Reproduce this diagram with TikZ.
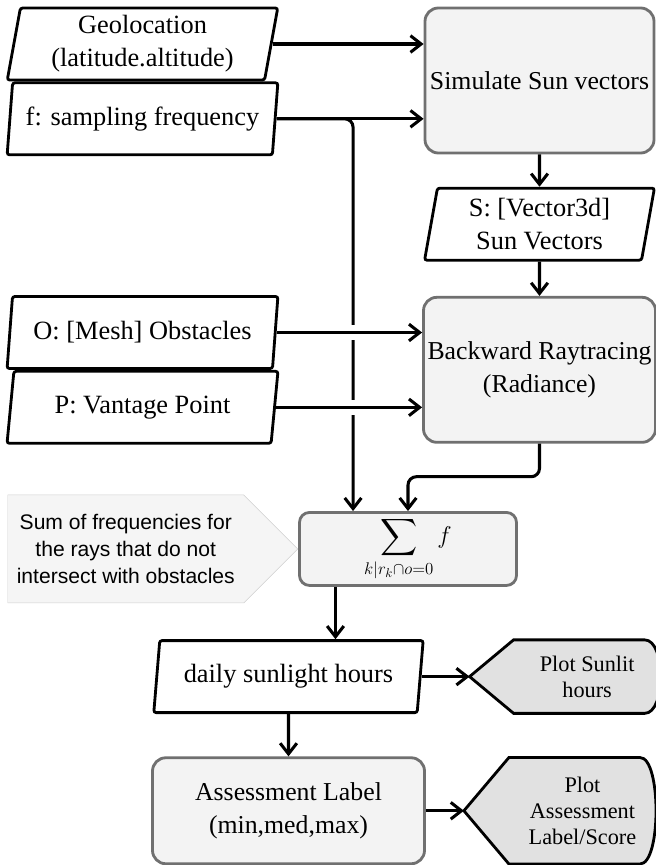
\documentclass[tikz,border=0pt]{standalone}
\usepackage{amsmath,amssymb}
\usepackage{fontspec}
\setmainfont{Liberation Serif}
\newfontfamily\notefont{Liberation Sans}
\usepackage{tikz}
\usetikzlibrary{shapes.geometric, shapes.symbols, arrows.meta, positioning, calc, backgrounds}
\definecolor{procfill}{HTML}{F3F3F3}
\definecolor{procline}{HTML}{707070}
\definecolor{dispfill}{HTML}{E1E1E1}
\definecolor{notefill}{HTML}{F5F5F5}
\definecolor{noteline}{HTML}{CFCFCF}
\tikzset{
    dataio/.style={
        trapezium,
        trapezium left angle=81,
        trapezium right angle=99,
        trapezium stretches=true,
        draw=black,
        line width=2.4pt,
        rounded corners=2pt,
        minimum width=8.13cm,
        minimum height=2.16cm,
        fill=white,
        align=center,
        font=\fontsize{22.5}{28}\selectfont
    },
    process/.style={
        rectangle,
        draw=procline,
        line width=2.4pt,
        rounded corners=0.4cm,
        minimum width=6.9cm,
        minimum height=4.35cm,
        inner xsep=1pt,
        fill=procfill,
        align=center,
        font=\fontsize{22}{28}\selectfont
    },
    display/.style={
        draw=black,
        line width=2.4pt,
        fill=dispfill
    },
    displaytext/.style={
        rectangle,
        minimum width=4.4cm,
        minimum height=2.19cm,
        inner sep=0pt,
        align=center,
        font=\fontsize{19}{22}\selectfont
    },
    note/.style={
        signal,
        signal to=east,
        signal pointer angle=90,
        draw=noteline,
        thin,
        fill=notefill,
        minimum width=8.7cm,
        minimum height=3.24cm,
        align=center,
        font=\notefont\fontsize{18}{23}\selectfont
    },
    wire/.style={
        draw=black,
        line width=2.6pt,
        -{Straight Barb[length=0.32cm,width=0.5cm]}
    },
    gapwire/.style={
        wire,
        preaction={draw=white, line width=0.45cm, -, shorten <=1cm, shorten >=1cm}
    }
}

\begin{document}
\begin{tikzpicture}
\useasboundingbox (0,0) rectangle (19.65,-25.95);

% Sun vectors and raytracing
\node[process, minimum width=6.87cm] (sim) at (16.185,-2.415) {Simulate Sun vectors};
\node[dataio, below=0.97cm of sim, minimum width=6.9cm] (sunvec) {S: [Vector3d]\\Sun Vectors};
\node[process, below=1.03cm of sunvec, minimum width=6.96cm] (raytrace) {Backward Raytracing\\(Radiance)};

% Inputs
\node[dataio] (geo) at (4.275,-1.32) {Geolocation\\(latitude.altitude)};
\node[dataio, below=0cm of geo] (freq) {f: sampling frequency};
\node[dataio] (obst) at (4.275,-9.975) {O: [Mesh] Obstacles};
\node[dataio, below=0cm of obst] (vantage) {P: Vantage Point};

% Sum of frequencies
\node[process, below=2.02cm of raytrace, xshift=-3.945cm, minimum width=6.51cm, minimum height=2.19cm, rounded corners=0.3cm, font=\fontsize{22}{26}\selectfont] (sum) {$\displaystyle\sum_{k|r_k\cap o=0} f$};
\node[note, left=0cm of sum] (note) {Sum of frequencies for\\the rays that do not\\intersect with obstacles};

% Results
\node[dataio, below=1.57cm of sum, xshift=-3.585cm, minimum width=8.1cm] (daily) {daily sunlight hours};
\node[process, below=1.27cm of daily, minimum width=8.16cm, minimum height=3.18cm] (assess) {Assessment Label\\(min,med,max)};

% Plots
\node[displaytext, right=2.76cm of daily] (plotsun) {Plot Sunlit\\hours};
\node[displaytext, right=2.49cm of assess, minimum height=3.18cm] (plotlabel) {Plot\\Assessment\\Label/Score};
\coordinate (suntip) at ([xshift=-1.32cm]plotsun.west);
\coordinate (labeltip) at ([xshift=-1.35cm]plotlabel.west);
\begin{scope}[on background layer]
\draw[display] (suntip) -- (plotsun.north west) -- ([xshift=-0.48cm]plotsun.north east) .. controls ([xshift=0.16cm]plotsun.north east) and ([xshift=0.16cm]plotsun.south east) .. ([xshift=-0.48cm]plotsun.south east) -- (plotsun.south west) -- cycle;
\draw[display] (labeltip) -- (plotlabel.north west) -- ([xshift=-0.48cm]plotlabel.north east) .. controls ([xshift=0.16cm]plotlabel.north east) and ([xshift=0.16cm]plotlabel.south east) .. ([xshift=-0.48cm]plotlabel.south east) -- (plotlabel.south west) -- cycle;
\end{scope}

% Input connections
\draw[wire] (geo.east) -- (geo.east -| sim.west);
\draw[wire] (freq.east) -- (freq.east -| sim.west);
\coordinate (sumin) at ($(sum.north west)!0.25!(sum.north east)$);
\draw[wire, rounded corners=0.25cm] (freq.east) -| (sumin);
\draw[gapwire] (obst.east) -- (obst.east -| raytrace.west);
\draw[gapwire] (vantage.east) -- (vantage.east -| raytrace.west);

% Main flow
\draw[wire] (sim) -- (sunvec);
\draw[wire] (sunvec) -- (raytrace);
\draw[wire, rounded corners=0.25cm] (raytrace.south) -- ++(0,-0.99cm) -| (sum.north);
\coordinate (sumout) at ($(sum.south west)!0.17!(sum.south east)$);
\draw[wire] (sumout) -- (sumout |- daily.north);
\draw[wire] (daily) -- (assess);
\draw[wire] (daily.east) -- (suntip);
\draw[wire] (assess.east) -- (labeltip);

\end{tikzpicture}
\end{document}
